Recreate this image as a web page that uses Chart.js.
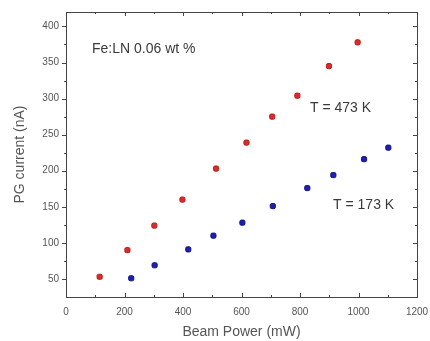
<!DOCTYPE html>
<html>
<head>
<meta charset="utf-8">
<script src="https://cdn.jsdelivr.net/npm/chart.js@4"></script>
<style>
  body { margin: 0; background: #fff; }
  canvas { display: block; }
</style>
</head>
<body>
<canvas id="pgChart" width="430" height="341"></canvas>
<script>
// data
const hotPower = [115, 210, 302, 398, 513, 617, 705, 791, 899, 997];
const hotCurrent = [53, 90, 124, 160, 203, 239, 275, 304, 345, 378];
const coldPower = [223, 303, 418, 504, 603, 707, 825, 914, 1019, 1102];
const coldCurrent = [51, 69, 91, 110, 128, 151, 176, 194, 216, 232];
const xTicks = [0, 200, 400, 600, 800, 1000, 1200];
const yTicks = [50, 100, 150, 200, 250, 300, 350, 400];
const notes = [
    { text: 'Fe:LN 0.06 wt %', x: 89, y: 369 },
    { text: 'T = 473 K', x: 834, y: 287 },
    { text: 'T = 173 K', x: 913, y: 152 }
];

const textColor = '#555';
const axisColor = '#444';
const fontFamily = '"Liberation Sans", Arial, sans-serif';

function toPoints(xs, ys) {
    return xs.map((x, i) => ({ x: x, y: ys[i] }));
}

// frame with Origin-like ticks: left outward, the rest inward
const framePlugin = {
    id: 'frame',
    afterDraw(chart) {
        const ctx = chart.ctx;
        const a = chart.chartArea;
        const sx = chart.scales.x, sy = chart.scales.y;
        ctx.save();
        ctx.strokeStyle = axisColor;
        ctx.lineWidth = 1;
        ctx.strokeRect(Math.round(a.left) + 0.5, Math.round(a.top) + 0.5,
            Math.round(a.right - a.left), Math.round(a.bottom - a.top));
        ctx.beginPath();
        for (let v = sx.min; v <= sx.max; v += 100) {
            const px = Math.round(sx.getPixelForValue(v)) + 0.5;
            const len = v % 200 === 0 ? 4 : 2;
            ctx.moveTo(px, a.bottom); ctx.lineTo(px, a.bottom - len);
            ctx.moveTo(px, a.top); ctx.lineTo(px, a.top + len);
        }
        for (let v = 50; v <= sy.max; v += 25) {
            const py = Math.round(sy.getPixelForValue(v)) + 0.5;
            const len = v % 50 === 0 ? 4 : 2;
            ctx.moveTo(a.left, py); ctx.lineTo(a.left - len, py);
            ctx.moveTo(a.right, py); ctx.lineTo(a.right - len, py);
        }
        ctx.stroke();

        ctx.fillStyle = '#3a3a3a';
        ctx.font = '14px ' + fontFamily;
        ctx.textBaseline = 'middle';
        notes.forEach(n => {
            ctx.fillText(n.text, sx.getPixelForValue(n.x), sy.getPixelForValue(n.y));
        });
        ctx.restore();
    }
};

const ctx = document.getElementById('pgChart').getContext('2d');
new Chart(ctx, {
    type: 'scatter',
    data: {
        datasets: [{
            label: 'T = 473 K',
            data: toPoints(hotPower, hotCurrent),
            backgroundColor: '#dc2b2b',
            borderColor: '#b41c1c',
            borderWidth: 1,
            pointStyle: 'rectRounded',
            pointRadius: 3
        },
        {
            label: 'T = 173 K',
            data: toPoints(coldPower, coldCurrent),
            backgroundColor: '#2020b0',
            borderColor: '#12127e',
            borderWidth: 1,
            pointStyle: 'rectRounded',
            pointRadius: 3
        }]
    },
    options: {
        responsive: false,
        animation: false,
        layout: { padding: { left: 0, top: 12, right: 13, bottom: 0 } },
        plugins: {
            legend: { display: false },
            tooltip: { enabled: false }
        },
        scales: {
            x: {
                type: 'linear',
                min: 0,
                max: 1200,
                afterBuildTicks: (s) => { s.ticks = xTicks.map(v => ({ value: v })); },
                afterFit: (s) => {
                    s.height = 44;
                    s.paddingLeft = 0;
                    s.paddingRight = 0;
                },
                grid: { display: false, drawTicks: false },
                border: { display: false },
                ticks: {
                    padding: 9,
                    color: textColor,
                    maxRotation: 0,
                    callback: (v) => String(v),
                    font: { family: fontFamily, size: 10 }
                },
                title: {
                    display: true,
                    text: 'Beam Power (mW)',
                    color: textColor,
                    padding: { top: 0, bottom: 0 },
                    font: { family: fontFamily, size: 14 }
                }
            },
            y: {
                type: 'linear',
                min: 25,
                max: 420,
                afterBuildTicks: (s) => { s.ticks = yTicks.map(v => ({ value: v })); },
                afterFit: (s) => {
                    s.width = 66;
                    s.paddingTop = 0;
                    s.paddingBottom = 0;
                },
                grid: { display: false, drawTicks: false },
                border: { display: false },
                ticks: {
                    padding: 7,
                    color: textColor,
                    callback: (v) => String(v),
                    font: { family: fontFamily, size: 10 }
                },
                title: {
                    display: true,
                    text: 'PG current (nA)',
                    color: textColor,
                    padding: { top: 12, bottom: 0 },
                    font: { family: fontFamily, size: 14 }
                }
            }
        }
    },
    plugins: [framePlugin]
});
</script>
</body>
</html>
